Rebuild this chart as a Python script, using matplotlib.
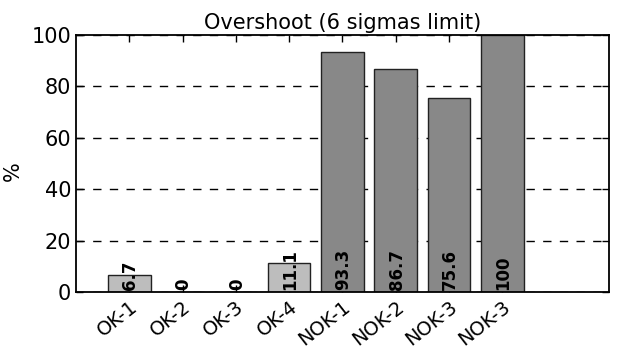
import matplotlib
matplotlib.use('Agg')
import matplotlib.pyplot as plt
from matplotlib.transforms import ScaledTranslation

# --- data ---
labels = ['OK-1', 'OK-2', 'OK-3', 'OK-4', 'NOK-1', 'NOK-2', 'NOK-3', 'NOK-3']
values = [6.7, 0, 0, 11.1, 93.3, 86.7, 75.6, 100]
value_text = ['6.7', '0', '0', '11.1', '93.3', '86.7', '75.6', '100']
colors = ['#bdbdbd'] * 4 + ['#888888'] * 4

fig = plt.figure(figsize=(6.17, 3.52), dpi=100)
ax = fig.add_axes([0.123, 0.1705, 0.864, 0.73])

x = list(range(len(labels)))
ax.bar(x, values, width=0.8, color=colors, edgecolor='#222222', linewidth=1.0, zorder=2)

# value labels, vertical, sitting on the baseline
for xi, t in zip(x, value_text):
    ax.text(xi + 0.02, 0.6, t, rotation=90, ha='center', va='bottom',
            fontsize=12, fontweight='bold', zorder=3)

ax.set_xlim(-1, 9)
ax.set_ylim(0, 100)
ax.set_yticks([0, 20, 40, 60, 80, 100])
ax.set_xticks(x)
ax.set_xticklabels(labels, rotation=38, ha='right', rotation_mode='anchor', fontsize=14)
# nudge the slanted labels a little to the right like the original
off = ScaledTranslation(0.07, -0.02, fig.dpi_scale_trans)
for lab in ax.get_xticklabels():
    lab.set_transform(lab.get_transform() + off)
ax.tick_params(axis='y', labelsize=15)
ax.tick_params(direction='in', top=True, right=True, length=5, width=1)
ax.yaxis.grid(True, linestyle=(0, (6, 6)), color='black', linewidth=1, zorder=0)
ax.set_axisbelow(True)
for s in ax.spines.values():
    s.set_linewidth(1.3)
    s.set_zorder(4)

ax.set_ylabel('%', fontsize=15)
ax.yaxis.set_label_coords(-0.1, 0.47)
ax.set_title('Overshoot (6 sigmas limit)', fontsize=15, pad=4)

fig.savefig('out.png', dpi=100)
